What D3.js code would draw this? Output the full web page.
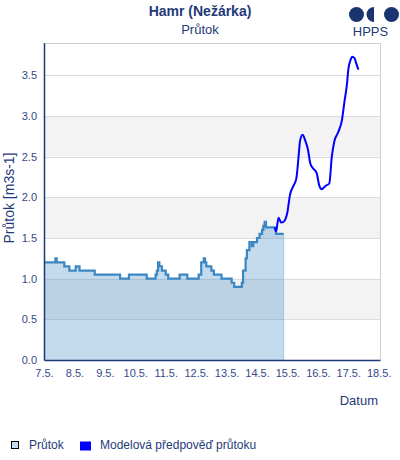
<!DOCTYPE html>
<html lang="cs">
<head>
    <meta charset="UTF-8">
    <title>Hamr (Nežárka) - Průtok</title>
    <script src="https://d3js.org/d3.v7.min.js"></script>
    <style>
        html, body {
            margin: 0;
            background: #fff;
            font-family: Arial, "Liberation Sans", sans-serif;
        }
        svg text { fill: #1f3a78; }
    </style>
</head>
<body>
<div id="chart"></div>
<script>
    // hodiny od 7.5. 00:00
    var obsHours = [0, 9, 10, 16, 20, 25.5, 28, 40, 60.5, 67.5, 81, 88, 89, 90, 91.5, 93.5, 96, 98.5,
        107, 113.5, 122.5, 124, 126, 127, 128.5, 132, 134, 140, 148, 150.5, 156.5, 157.5, 159, 160.5,
        162, 164.5, 165.5, 168.5, 170, 172, 173.5, 174.5, 175.5, 183.5, 189.5];
    var obsValues = [1.2, 1.25, 1.2, 1.15, 1.1, 1.15, 1.1, 1.05, 1.0, 1.05, 1.0, 1.05, 1.1, 1.2, 1.15, 1.1, 1.05, 1.0,
        1.05, 1.0, 1.05, 1.2, 1.25, 1.2, 1.15, 1.1, 1.05, 1.0, 0.95, 0.9, 0.95, 1.1, 1.25, 1.35,
        1.45, 1.4, 1.45, 1.5, 1.55, 1.6, 1.65, 1.7, 1.63, 1.55, 1.55];

    var fcHours = [182.5, 183.6, 185.8, 187.8, 189.5, 192.3, 194.2, 197.2, 199.5, 201, 202.9, 204.7, 206.5,
        208, 210, 212, 215, 217.3, 219.4, 222, 225.2, 227.3, 229.9, 232.8, 235.2, 237, 239.1, 240.9,
        242.3, 243.5, 245, 246.5, 248.8];
    var fcValues = [1.63, 1.58, 1.75, 1.69, 1.7, 1.82, 2.03, 2.15, 2.23, 2.54, 2.70, 2.77, 2.70,
        2.60, 2.42, 2.36, 2.30, 2.15, 2.10, 2.14, 2.17, 2.50, 2.69, 2.80, 2.95, 3.18, 3.40, 3.57,
        3.70, 3.73, 3.71, 3.66, 3.57];

    var yTicks = [0, 0.5, 1.0, 1.5, 2.0, 2.5, 3.0, 3.5];
    var bands = [[0.5, 1.0], [1.5, 2.0], [2.5, 3.0]];

    var start = new Date(2024, 4, 7, 0, 0);
    var end = d3.timeHour.offset(start, 265);

    var obs = obsHours.map(function(h, i){ return {t: d3.timeHour.offset(start, h), v: obsValues[i]}; });
    var fc = fcHours.map(function(h, i){ return {t: d3.timeHour.offset(start, h), v: fcValues[i]}; });

    var width = 400, height = 460;
    var plot = {left: 44, right: 380, top: 42.8, bottom: 360};

    var svg = d3.select('#chart').append('svg')
        .attr('width', width)
        .attr('height', height);

    var x = d3.scaleTime().domain([start, end]).range([plot.left, plot.right]);
    var y = d3.scaleLinear().domain([0, 3.9]).range([plot.bottom, plot.top]);

    // pruhy a mřížka
    svg.selectAll('.band').data(bands).enter().append('rect')
        .attr('x', plot.left)
        .attr('width', plot.right - plot.left)
        .attr('y', function(d){ return y(d[1]); })
        .attr('height', function(d){ return y(d[0]) - y(d[1]); })
        .attr('fill', '#f3f3f3');

    svg.selectAll('.grid').data(yTicks.slice(1)).enter().append('line')
        .attr('x1', plot.left).attr('x2', plot.right)
        .attr('y1', function(d){ return Math.round(y(d)) + 0.5; })
        .attr('y2', function(d){ return Math.round(y(d)) + 0.5; })
        .attr('stroke', '#dcdcdc');

    // rámeček nahoře a vpravo
    svg.append('path')
        .attr('d', 'M' + plot.left + ',' + (Math.round(plot.top) + 0.5) + 'H' + (plot.right + 0.5) + 'V' + plot.bottom)
        .attr('fill', 'none')
        .attr('stroke', '#d0d0d0');

    // průtok
    var area = d3.area()
        .curve(d3.curveStepAfter)
        .x(function(d){ return x(d.t); })
        .y0(y(0))
        .y1(function(d){ return y(d.v); });

    var line = d3.line()
        .curve(d3.curveStepAfter)
        .x(function(d){ return x(d.t); })
        .y(function(d){ return y(d.v); });

    svg.append('path').datum(obs)
        .attr('d', area)
        .attr('fill', '#3a87c3')
        .attr('fill-opacity', 0.3);

    var last = obs[obs.length - 1];
    svg.append('line')
        .attr('x1', x(last.t)).attr('x2', x(last.t))
        .attr('y1', y(last.v)).attr('y2', y(0))
        .attr('stroke', '#9cc7ec')
        .attr('stroke-width', 1);

    svg.append('path').datum(obs)
        .attr('d', line)
        .attr('fill', 'none')
        .attr('stroke', '#3a87c3')
        .attr('stroke-width', 2.2);

    // modelová předpověď
    svg.append('path').datum(fc)
        .attr('d', d3.line()
            .curve(d3.curveMonotoneX)
            .x(function(d){ return x(d.t); })
            .y(function(d){ return y(d.v); }))
        .attr('fill', 'none')
        .attr('stroke', '#0000ff')
        .attr('stroke-width', 2);

    // osy
    var yAxis = svg.append('g')
        .attr('transform', 'translate(' + plot.left + ',0)')
        .call(d3.axisLeft(y).tickValues(yTicks).tickFormat(d3.format('.1f')).tickSize(0).tickPadding(7));
    yAxis.select('.domain').attr('stroke', '#1a3a7a').attr('stroke-width', 1.5);

    var xAxis = svg.append('g')
        .attr('transform', 'translate(0,' + plot.bottom + ')')
        .call(d3.axisBottom(x).ticks(d3.timeDay.every(1)).tickFormat(d3.timeFormat('%-d.%-m.')).tickSize(0).tickPadding(9));
    xAxis.select('.domain').attr('stroke', '#1a3a7a').attr('stroke-width', 1.5);

    svg.selectAll('.tick text')
        .attr('font-size', '11px')
        .attr('font-family', 'Arial, "Liberation Sans", sans-serif')
        .style('fill', '#34498a');

    svg.append('text')
        .attr('transform', 'translate(14,198)rotate(-90)')
        .attr('text-anchor', 'middle')
        .attr('font-size', '14px')
        .text('Průtok [m3s-1]');

    svg.append('text')
        .attr('x', 378).attr('y', 405)
        .attr('text-anchor', 'end')
        .attr('font-size', '13px')
        .text('Datum');

    // nadpis
    svg.append('text')
        .attr('x', 200).attr('y', 16)
        .attr('text-anchor', 'middle')
        .attr('font-size', '14px')
        .attr('font-weight', 'bold')
        .text('Hamr (Nežárka)');

    svg.append('text')
        .attr('x', 200).attr('y', 34)
        .attr('text-anchor', 'middle')
        .attr('font-size', '13px')
        .text('Průtok');

    // logo HPPS
    var logo = svg.append('g').attr('fill', '#1a3470');
    logo.append('circle').attr('cx', 356.5).attr('cy', 14.5).attr('r', 7.5);
    logo.append('path').attr('d', d3.arc()({innerRadius: 0, outerRadius: 7.5, startAngle: Math.PI, endAngle: 2 * Math.PI}))
        .attr('transform', 'translate(374,14.5)');
    logo.append('circle').attr('cx', 391.5).attr('cy', 14.5).attr('r', 7.5);
    svg.append('text')
        .attr('x', 370.5).attr('y', 36)
        .attr('text-anchor', 'middle')
        .attr('font-size', '13px')
        .text('HPPS');

    // legenda
    svg.append('rect')
        .attr('x', 11.5).attr('y', 441.5).attr('width', 7).attr('height', 7)
        .attr('fill', '#c6ddf0')
        .attr('stroke', '#000');
    svg.append('text')
        .attr('x', 29).attr('y', 449)
        .attr('font-size', '12px')
        .text('Průtok');
    svg.append('rect')
        .attr('x', 80).attr('y', 441.5).attr('width', 11).attr('height', 9)
        .attr('fill', '#0000ff');
    svg.append('text')
        .attr('x', 100).attr('y', 449)
        .attr('font-size', '12px')
        .text('Modelová předpověď průtoku');
</script>
</body>
</html>
